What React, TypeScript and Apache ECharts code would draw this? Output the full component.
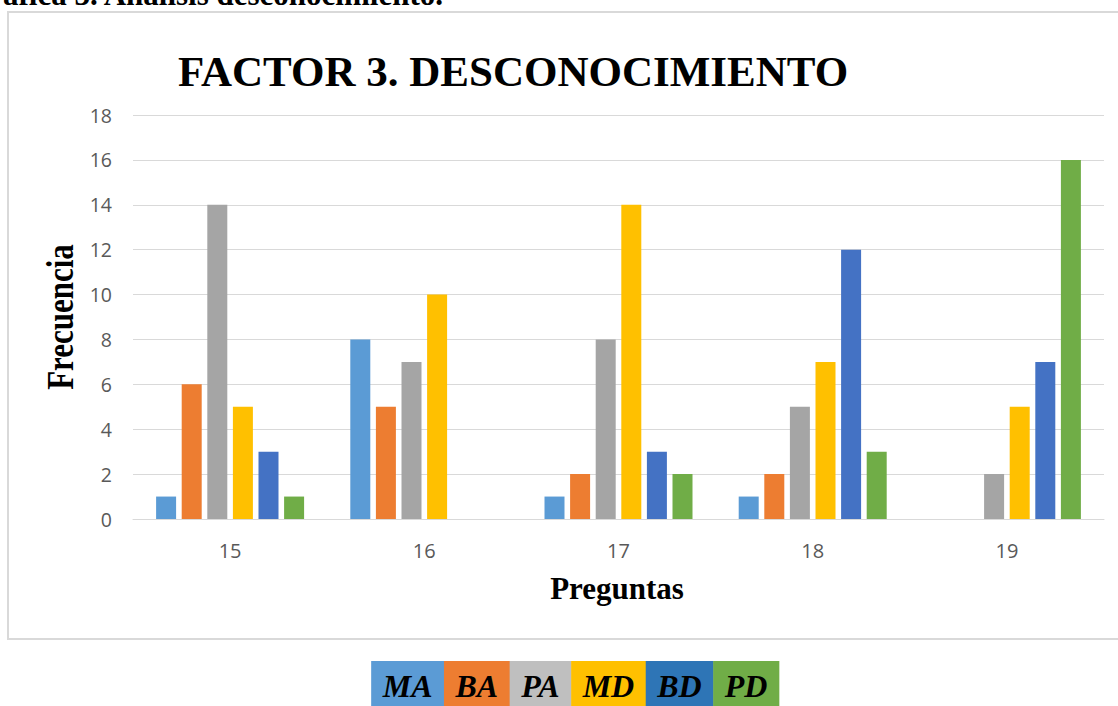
import React, { useEffect, useRef } from "react";
import * as echarts from "echarts";

const categories = ["15", "16", "17", "18", "19"];
const seriesNames = ["MA", "BA", "PA", "MD", "BD", "PD"];
const MA = [1, 8, 1, 1, 0];
const BA = [6, 5, 2, 2, 0];
const PA = [14, 7, 8, 5, 2];
const MD = [5, 10, 14, 7, 5];
const BD = [3, 0, 3, 12, 7];
const PD = [1, 0, 2, 3, 16];
const seriesValues = [MA, BA, PA, MD, BD, PD];
const barColors = ["#5B9BD5", "#ED7D31", "#A5A5A5", "#FFC000", "#4472C4", "#70AD47"];
const legendColors = ["#5B9BD5", "#ED7D31", "#BFBFBF", "#FFC000", "#2E75B6", "#70AD47"];
const yMin = 0;
const yMax = 18;
const yInterval = 2;

const titleText = "FACTOR 3. DESCONOCIMIENTO";
const headerText = "Gráfica 3. Análisis desconocimiento.";
const xAxisTitle = "Preguntas";
const yAxisTitle = "Frecuencia";

const SERIF = '"Liberation Serif", "Times New Roman", serif';
const SANS = '"Open Sans", "Liberation Sans", sans-serif';

export default function App() {
  const ref = useRef<HTMLDivElement>(null);

  useEffect(() => {
    document.body.style.margin = "0";
    const chart = echarts.init(ref.current!, undefined, { renderer: "svg" });

    const legendFont = `italic bold 32px ${SERIF}`;
    const canvas = document.createElement("canvas");
    const ctx = canvas.getContext("2d")!;
    ctx.font = legendFont;
    const pad = 11.5;
    const widths = seriesNames.map((n) => ctx.measureText(n).width + pad * 2);
    const total = widths.reduce((a, b) => a + b, 0);
    let lx = 575 - total / 2;
    const legendEls: any[] = [];
    seriesNames.forEach((n, i) => {
      legendEls.push({
        type: "rect",
        shape: { x: lx, y: 661, width: widths[i] + 0.5, height: 45 },
        style: { fill: legendColors[i] },
        z: 10,
      });
      legendEls.push({
        type: "text",
        x: lx + widths[i] / 2,
        y: 686,
        style: {
          text: n,
          font: legendFont,
          fill: "#000",
          align: "center",
          verticalAlign: "middle",
          textAlign: "center",
          textVerticalAlign: "middle",
        },
        z: 11,
      });
      lx += widths[i];
    });

    chart.setOption({
      animation: false,
      backgroundColor: "#ffffff",
      grid: { left: 133, right: 14, top: 115, bottom: 187, containLabel: false },
      xAxis: {
        type: "category",
        data: categories,
        axisLine: { show: true, lineStyle: { color: "#d9d9d9", width: 1 } },
        axisTick: { show: false },
        axisLabel: { color: "#595959", fontSize: 20, fontFamily: SANS, margin: 21 },
      },
      yAxis: {
        type: "value",
        min: yMin,
        max: yMax,
        interval: yInterval,
        axisLine: { show: false },
        axisTick: { show: false },
        splitLine: { lineStyle: { color: "#d9d9d9", width: 1 } },
        axisLabel: { color: "#595959", fontSize: 19.5, fontFamily: SANS, margin: 21 },
      },
      series: seriesNames.map((n, i) => ({
        name: n,
        type: "bar",
        data: seriesValues[i],
        barWidth: 20,
        barGap: "28%",
        itemStyle: { color: barColors[i] },
      })),
      graphic: [
        {
          type: "rect",
          shape: { x: 8, y: 12, width: 1130, height: 627 },
          style: { fill: "none", stroke: "#d9d9d9", lineWidth: 2 },
          z: 0,
        },
        {
          type: "text",
          x: 443,
          y: -6,
          style: {
            text: headerText,
            font: `bold 31px ${SERIF}`,
            fill: "#000",
            align: "right",
            verticalAlign: "middle",
            textAlign: "right",
            textVerticalAlign: "middle",
          },
        },
        {
          type: "text",
          x: 513,
          y: 71,
          style: {
            text: titleText,
            font: `bold 43px ${SERIF}`,
            fill: "#000",
            align: "center",
            verticalAlign: "middle",
            textAlign: "center",
            textVerticalAlign: "middle",
          },
        },
        {
          type: "text",
          x: 617,
          y: 588,
          style: {
            text: xAxisTitle,
            font: `bold 31px ${SERIF}`,
            fill: "#000",
            align: "center",
            verticalAlign: "middle",
            textAlign: "center",
            textVerticalAlign: "middle",
          },
        },
        {
          type: "text",
          x: 60,
          y: 317,
          rotation: Math.PI / 2,
          scaleY: 1.25,
          style: {
            text: yAxisTitle,
            font: `bold 31px ${SERIF}`,
            fill: "#000",
            align: "center",
            verticalAlign: "middle",
            textAlign: "center",
            textVerticalAlign: "middle",
          },
        },
        ...legendEls,
      ],
    });
    return () => chart.dispose();
  }, []);

  return <div ref={ref} style={{ width: 1118, height: 706 }} />;
}
